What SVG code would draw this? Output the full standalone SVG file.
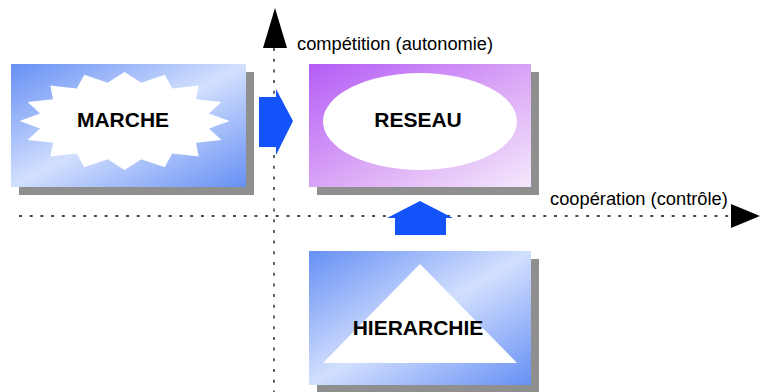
<svg xmlns="http://www.w3.org/2000/svg" width="760" height="392" viewBox="0 0 760 392">
<style>
.shadow{fill:#8f8f8f}
.lbl{font-family:"Liberation Sans",Arial,sans-serif;font-weight:bold;font-size:21px;fill:#000;text-anchor:middle}
.axl{font-family:"Liberation Sans",Arial,sans-serif;font-size:18.3px;fill:#000}
.axis{stroke:#111;stroke-width:1.3;stroke-dasharray:3 7.7;fill:none}
.flow{fill:#1452fa}
</style>
<defs>
<linearGradient id="gBlue" x1="0" y1="0" x2="1" y2="1">
<stop offset="0" stop-color="#6790f4"/>
<stop offset="0.5" stop-color="#d2dffe"/>
<stop offset="1" stop-color="#6790f4"/>
</linearGradient>
<linearGradient id="gPurple" x1="0" y1="0" x2="1" y2="1">
<stop offset="0" stop-color="#b45cf6"/>
<stop offset="0.55" stop-color="#dcaaf6"/>
<stop offset="1" stop-color="#f4e8fc"/>
</linearGradient>
</defs>
<g id="axes">
<line class="axis" x1="274" y1="48" x2="274" y2="392"/>
<polygon points="275,8 263,48 287,48" fill="#000"/>
<text class="axl" x="297" y="50">compétition (autonomie)</text>
<line class="axis" x1="19" y1="216" x2="731" y2="216"/>
<polygon points="731,204 760,216 731,228" fill="#000"/>
<text class="axl" x="550" y="205">coopération (contrôle)</text>
</g>
<g id="marche">
<rect class="shadow" x="19" y="72" width="235" height="123"/>
<rect x="11" y="64" width="235" height="123" fill="url(#gBlue)"/>
<polygon fill="#fff" points="124.5,72 141.3,82.7 164.7,74.8 172.3,88.6 198.7,85.6 196,99.3 221.5,101.9 208.9,113.4 229.5,121 208.9,128.6 221.5,140.1 196,142.7 198.7,156.4 172.3,153.4 164.7,167.2 141.3,159.3 124.5,170 107.7,159.3 84.3,167.2 76.7,153.4 50.3,156.4 53,142.7 27.5,140.1 40.1,128.6 19.5,121 40.1,113.4 27.5,101.9 53,99.3 50.3,85.6 76.7,88.6 84.3,74.8 107.7,82.7"/>
<text class="lbl" x="123" y="127">MARCHE</text>
</g>
<g id="reseau">
<rect class="shadow" x="317" y="72" width="222" height="123"/>
<rect x="309" y="64" width="222" height="123" fill="url(#gPurple)"/>
<ellipse cx="420" cy="121.5" rx="97" ry="48.5" fill="#fff"/>
<text class="lbl" x="418" y="127">RESEAU</text>
</g>
<g id="hierarchie">
<rect class="shadow" x="317" y="259" width="222" height="134"/>
<rect x="309" y="251" width="222" height="134" fill="url(#gBlue)"/>
<polygon points="420,264 517,363 323,363" fill="#fff"/>
<text class="lbl" x="418" y="335">HIERARCHIE</text>
</g>
<g id="connectors">
<polygon class="flow" points="259,97 276,97 276,89 293,121 276,155 276,147 259,147"/>
<polygon class="flow" points="395,235 395,218 387,218 420,201 453,218 446,218 446,235"/>
</g>
</svg>
